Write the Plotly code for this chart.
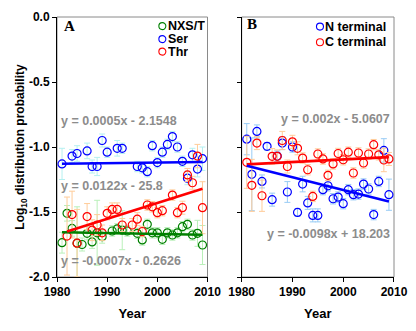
import plotly.graph_objects as go
from plotly.subplots import make_subplots

# ---------------- data: panel A ----------------
nxs_years = [1981, 1982, 1983, 1984, 1985, 1986, 1987, 1988, 1989, 1991, 1992, 1993, 1994,
             1996, 1997, 1998, 1999, 2000, 2001, 2002, 2003, 2004, 2005, 2006, 2007, 2008, 2009]
nxs_vals = [-1.736, -1.51, -1.626, -1.74, -1.75, -1.664, -1.73, -1.66, -1.69, -1.646, -1.63, -1.64, -1.646,
            -1.664, -1.715, -1.595, -1.66, -1.66, -1.71, -1.66, -1.677, -1.66, -1.613, -1.595, -1.677, -1.664, -1.754]
nxs_err = [0.08, 0.06, 0.06, 0.28, 0.05, 0.05, 0.05, 0.25, 0.05, 0.04, 0.04, 0.15, 0.04,
           0.04, 0.04, 0.04, 0.04, 0.04, 0.04, 0.04, 0.04, 0.04, 0.04, 0.04, 0.04, 0.1, 0.15]

ser_years = [1981, 1983, 1984, 1986, 1987, 1988, 1989, 1990, 1992, 1993, 1996, 1997, 1998,
             1999, 2000, 2001, 2002, 2003, 2004, 2005, 2006, 2007, 2008, 2009]
ser_vals = [-1.13, -1.07, -1.05, -1.03, -1.15, -1.15, -0.95, -1.04, -1.01, -1.01, -1.15, -1.16, -1.19,
            -0.99, -1.12, -1.04, -0.98, -0.92, -1.0, -1.11, -1.24, -1.06, -1.17, -1.09]
ser_err = [0.12, 0.05, 0.06, 0.06, 0.05, 0.07, 0.05, 0.04, 0.06, 0.04, 0.04, 0.04, 0.04,
           0.04, 0.04, 0.04, 0.04, 0.04, 0.04, 0.04, 0.05, 0.05, 0.06, 0.09]

thr_years = [1982, 1983, 1984, 1986, 1987, 1988, 1989, 1990, 1991, 1992, 1993, 1995, 1996,
             1997, 1998, 1999, 2000, 2001, 2003, 2004, 2005, 2006, 2007, 2008, 2009]
thr_vals = [-1.685, -1.52, -1.74, -1.535, -1.64, -1.60, -1.66, -1.51, -1.48, -1.48, -1.60, -1.60, -1.555,
            -1.65, -1.446, -1.46, -1.505, -1.49, -1.37, -1.505, -1.467, -1.215, -1.275, -1.07, -1.467]
thr_err = [0.3, 0.18, 0.26, 0.1, 0.08, 0.08, 0.06, 0.05, 0.05, 0.05, 0.05, 0.05, 0.05,
           0.04, 0.04, 0.04, 0.04, 0.04, 0.04, 0.04, 0.05, 0.05, 0.05, 0.09, 0.2]

# trend lines (slope, intercept) as drawn in panel A: NXS/T, Ser, Thr
trend_a_names = ["NXS/T", "Ser", "Thr"]
trend_a_slope = [-0.0007, 0.0005, 0.0122]
trend_a_intercept = [-0.2685, -2.1195, -25.8305]
eq_a_text = ["y = -0.0007x - 0.2626", "y = 0.0005x - 2.1548", "y = 0.0122x - 25.8"]

# ---------------- data: panel B ----------------
n_years = [1981, 1982, 1983, 1984, 1985, 1986, 1987, 1988, 1989, 1990, 1991, 1992, 1993, 1994, 1995,
           1996, 1997, 1998, 1999, 2000, 2001, 2002, 2003, 2004, 2005, 2006, 2007, 2008, 2009]
n_vals = [-0.94, -1.21, -0.88, -1.265, -0.995, -1.405, -1.07, -0.97, -1.346, -1.0, -1.503, -1.285, -1.43,
          -1.526, -1.526, -1.328, -1.298, -1.398, -1.385, -1.436, -1.328, -1.367, -1.362, -1.285, -1.323,
          -1.52, -1.265, -1.026, -1.367]
n_err = [0.12, 0.28, 0.05, 0.05, 0.03, 0.05, 0.04, 0.05, 0.08, 0.04, 0.03, 0.06, 0.05, 0.05, 0.05,
         0.04, 0.04, 0.04, 0.04, 0.04, 0.04, 0.04, 0.04, 0.04, 0.04, 0.04, 0.04, 0.09, 0.12]

c_years = [1981, 1982, 1983, 1984, 1986, 1987, 1988, 1989, 1990, 1991, 1992, 1993, 1994, 1995,
           1996, 1997, 1998, 1999, 2000, 2001, 2002, 2003, 2004, 2005, 2006, 2007, 2008, 2009]
c_vals = [-1.118, -1.295, -0.97, -1.375, -1.072, -1.072, -0.95, -1.15, -0.96, -1.01, -1.085, -1.175,
          -1.38, -1.054, -1.092, -1.218, -1.13, -1.05, -1.098, -1.04, -1.2, -1.046, -1.123, -1.054,
          -0.982, -1.06, -1.10, -1.092]
c_err = [0.2, 0.2, 0.05, 0.12, 0.06, 0.05, 0.07, 0.05, 0.05, 0.05, 0.04, 0.04, 0.04, 0.04,
         0.04, 0.04, 0.04, 0.04, 0.04, 0.04, 0.04, 0.04, 0.04, 0.04, 0.04, 0.04, 0.09, 0.05]

trend_b_names = ["N terminal", "C terminal"]
trend_b_slope = [-0.0098, 0.002]
trend_b_intercept = [18.269, -5.096]
eq_b_text = ["y = -0.0098x + 18.203", "y = 0.002x - 5.0607"]

x_tick_vals = [1980, 1990, 2000, 2010]
x_tick_text = ["1980", "1990", "2000", "2010"]
y_tick_vals = [0.0, -0.5, -1.0, -1.5, -2.0]
y_tick_text = ["0.0", "-0.5", "-1.0", "-1.5", "-2.0"]

# ---------------- styles ----------------
BLUE, RED, GREEN = "#0000ff", "#ff0000", "#008000"
ERR_SER, ERR_THR, ERR_NXS = "#b4f0f0", "#ffcc99", "#b9f0b9"
ERR_N, ERR_C = "#99ccf5", "#ffcc99"
SANS = "Liberation Sans, Arial, sans-serif"
SERIF = "Liberation Serif, Times New Roman, serif"

fig = make_subplots(rows=1, cols=2)


def pts(x, y, err, color, ecolor, col):
    fig.add_trace(go.Scatter(
        x=x, y=y, mode="markers",
        marker=dict(symbol="circle-open", size=8, color=color, line=dict(width=1.2, color=color)),
        error_y=dict(type="data", array=err, visible=True, color=ecolor, thickness=1, width=3),
        showlegend=False, hoverinfo="skip"), row=1, col=col)


def trend(years, slope, intercept, color, col):
    xs = [min(years), max(years)]
    ys = [slope * v + intercept for v in xs]
    fig.add_trace(go.Scatter(x=xs, y=ys, mode="lines", line=dict(color=color, width=2.6),
                             showlegend=False, hoverinfo="skip"), row=1, col=col)


# panel A
pts(nxs_years, nxs_vals, nxs_err, GREEN, ERR_NXS, 1)
pts(ser_years, ser_vals, ser_err, BLUE, ERR_SER, 1)
pts(thr_years, thr_vals, thr_err, RED, ERR_THR, 1)
trend(nxs_years, trend_a_slope[0], trend_a_intercept[0], GREEN, 1)
trend(thr_years, trend_a_slope[2], trend_a_intercept[2], RED, 1)
trend(ser_years, trend_a_slope[1], trend_a_intercept[1], BLUE, 1)

# panel B
pts(n_years, n_vals, n_err, BLUE, ERR_N, 2)
pts(c_years, c_vals, c_err, RED, ERR_C, 2)
trend(c_years, trend_b_slope[1], trend_b_intercept[1], RED, 2)
trend(n_years, trend_b_slope[0], trend_b_intercept[0], BLUE, 2)

axis_common = dict(showgrid=False, zeroline=False, showline=True, linecolor="black", linewidth=1,
                   ticks="outside", ticklen=4, tickcolor="black", automargin=False,
                   tickfont=dict(family=SANS, size=12, color="black", weight="bold"))

fig.update_xaxes(range=[1980, 2010], tickvals=x_tick_vals, ticktext=x_tick_text,
                 title=dict(text="Year", font=dict(family=SANS, size=13, color="black", weight="bold"),
                            standoff=10),
                 **axis_common)
fig.update_yaxes(range=[-2.0, 0.0], tickvals=y_tick_vals, ticktext=y_tick_text, **axis_common)
fig.update_yaxes(showticklabels=False, row=1, col=2)
fig.update_yaxes(title=dict(text="Log<sub>10</sub> distribution probability",
                            font=dict(family=SANS, size=12, color="black", weight="bold"), standoff=1),
                 row=1, col=1)

# the page body adds an 8 px offset, so the figure is 8 px smaller and margins shifted accordingly
fig.update_layout(
    width=408, height=323, autosize=False,
    margin=dict(l=49, r=22, t=9, b=54, pad=0),
    paper_bgcolor="white", plot_bgcolor="white",
    xaxis=dict(domain=[0, 0.4466]), xaxis2=dict(domain=[0.548, 1.0]),
    showlegend=False,
)

shapes = []
annotations = []
for xr, yr in [("x domain", "y domain"), ("x2 domain", "y2 domain")]:
    shapes.append(dict(type="rect", xref=xr, yref=yr, x0=0, x1=1, y0=0, y1=1,
                       line=dict(color="#8a8a8a", width=1), layer="below"))

# panel letters
annotations.append(dict(xref="x domain", yref="y domain", x=0.03, y=0.965, xanchor="left", yanchor="middle",
                        text="<b>A</b>", showarrow=False, font=dict(family=SERIF, size=15, color="black")))
annotations.append(dict(xref="x2 domain", yref="y2 domain", x=0.025, y=0.972, xanchor="left", yanchor="middle",
                        text="<b>B</b>", showarrow=False, font=dict(family=SERIF, size=15, color="black")))

# legends (manual)
LEG_FONT = dict(family=SANS, size=12.5, color="black", weight="bold")
legend_a = [("NXS/T", GREEN, 0.965), ("Ser", BLUE, 0.915), ("Thr", RED, 0.867)]
for name, col, yy in legend_a:
    shapes.append(dict(type="circle", xref="x domain", yref="y domain", xsizemode="pixel", ysizemode="pixel",
                       xanchor=0.70, yanchor=yy, x0=-3.5, x1=3.5, y0=-3.5, y1=3.5,
                       line=dict(color=col, width=1.1)))
    annotations.append(dict(xref="x domain", yref="y domain", x=0.725, y=yy, xanchor="left", yanchor="middle",
                            text=name, showarrow=False, height=12, font=LEG_FONT))
legend_b = [("N terminal", BLUE, 0.963), ("C terminal", RED, 0.903)]
for name, col, yy in legend_b:
    shapes.append(dict(type="circle", xref="x2 domain", yref="y2 domain", xsizemode="pixel", ysizemode="pixel",
                       xanchor=0.514, yanchor=yy, x0=-3.5, x1=3.5, y0=-3.5, y1=3.5,
                       line=dict(color=col, width=1.1)))
    annotations.append(dict(xref="x2 domain", yref="y2 domain", x=0.535, y=yy, xanchor="left", yanchor="middle",
                            text=name, showarrow=False, height=12, font=LEG_FONT))

# trend equations
EQ_FONT = dict(family=SANS, size=12.5, color="#8c8c8c", weight="bold")
eq_a_y = [0.062, 0.601, 0.351]
for txt, yy in zip(eq_a_text, eq_a_y):
    annotations.append(dict(xref="x domain", yref="y domain", x=0.01, y=yy, xanchor="left", yanchor="middle",
                            text=txt, showarrow=False, font=EQ_FONT))
eq_b_y = [0.166, 0.607]
for txt, yy in zip(eq_b_text, eq_b_y):
    annotations.append(dict(xref="x2 domain", yref="y2 domain", x=0.985, y=yy, xanchor="right", yanchor="middle",
                            text=txt, showarrow=False, font=EQ_FONT))

fig.update_layout(shapes=shapes, annotations=annotations)
fig.write_html("out.html")
